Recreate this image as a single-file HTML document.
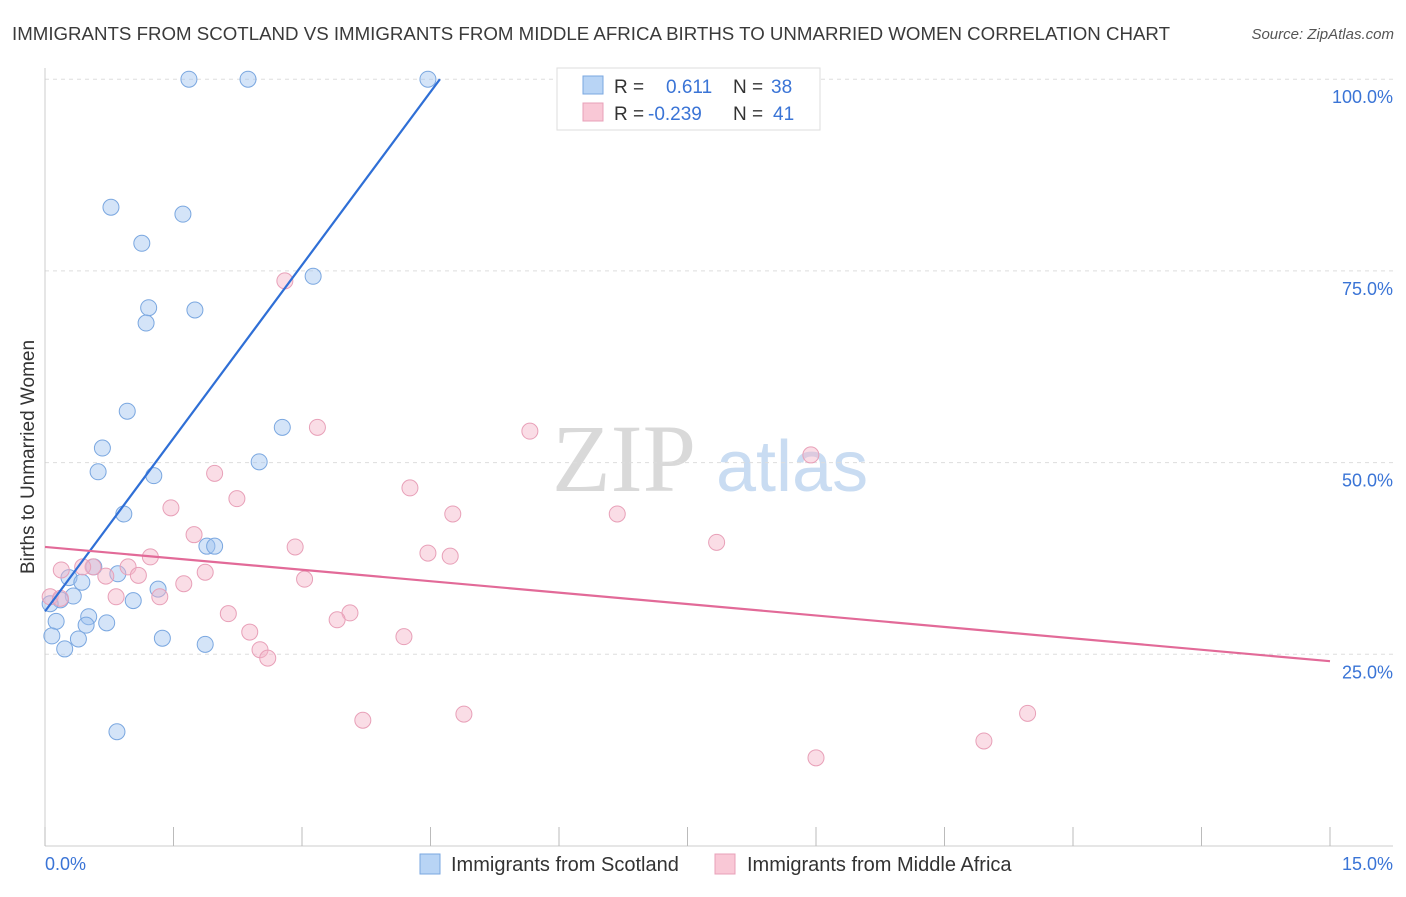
<!DOCTYPE html>
<html><head><meta charset="utf-8"><style>
body{margin:0;background:#fff;font-family:"Liberation Sans",sans-serif;}
svg text{font-family:"Liberation Sans",sans-serif;}
</style></head><body>
<svg id="chart" width="1406" height="892" xmlns="http://www.w3.org/2000/svg">
<text x="12" y="40" font-size="18" fill="#3a3a3a" textLength="1158" lengthAdjust="spacingAndGlyphs">IMMIGRANTS FROM SCOTLAND VS IMMIGRANTS FROM MIDDLE AFRICA BIRTHS TO UNMARRIED WOMEN CORRELATION CHART</text>
<text x="1394" y="39" font-size="15" fill="#555" font-style="italic" text-anchor="end">Source: ZipAtlas.com</text>
<text x="552" y="491" font-size="96" fill="#d9d9d9" font-family="Liberation Serif" style="font-family:'Liberation Serif',serif">ZIP</text>
<text x="716" y="491" font-size="72" fill="#c9dcf2">atlas</text>
<text transform="translate(34,457) rotate(-90)" font-size="19" fill="#333" text-anchor="middle">Births to Unmarried Women</text>
<g id="grid"></g><g id="pts"></g><g id="lines"></g>
<g>
<rect x="557" y="68" width="263" height="62" fill="#fff" stroke="#ddd"/>
<rect x="583" y="76" width="20" height="18" fill="#b8d4f5" stroke="#7aa7e0"/>
<rect x="583" y="103" width="20" height="18" fill="#f9c8d6" stroke="#e8a0b8"/>
<text x="614" y="93" font-size="19" fill="#333">R =</text><text x="666" y="93" font-size="19" fill="#3a74d6">0.611</text>
<text x="733" y="93" font-size="19" fill="#333">N =</text><text x="771" y="93" font-size="19" fill="#3a74d6">38</text>
<text x="614" y="120" font-size="19" fill="#333">R =</text><text x="648" y="120" font-size="19" fill="#3a74d6">-0.239</text>
<text x="733" y="120" font-size="19" fill="#333">N =</text><text x="773" y="120" font-size="19" fill="#3a74d6">41</text>
</g>
<g>
<rect x="420" y="854" width="20" height="20" fill="#b8d4f5" stroke="#7aa7e0"/>
<text x="451" y="871" font-size="20" fill="#333">Immigrants from Scotland</text>
<rect x="715" y="854" width="20" height="20" fill="#f9c8d6" stroke="#e8a0b8"/>
<text x="747" y="871" font-size="20" fill="#333">Immigrants from Middle Africa</text>
</g>
<text x="45" y="870" font-size="18" fill="#3a74d6">0.0%</text>
<text x="1393" y="870" font-size="18" fill="#3a74d6" text-anchor="end">15.0%</text>
</svg>
<script>
const blueX=[1.68,2.37,4.47,0.77,1.61,1.13,3.13,1.21,1.75,1.18,0.96,2.77,0.67,2.50,0.62,1.27,0.92,1.89,1.98,0.57,0.28,0.85,0.43,1.32,0.33,0.18,0.06,1.03,0.51,0.48,0.72,0.13,1.37,0.39,0.08,1.87,0.23,0.84];
const blueY=[100,100,100,83.3,82.4,78.6,74.3,70.2,69.9,68.2,56.7,54.6,51.9,50.1,48.8,48.3,43.3,39.1,39.1,36.4,35.0,35.5,34.4,33.5,32.6,32.1,31.6,32.0,29.9,28.8,29.1,29.3,27.1,27.0,27.4,26.3,25.7,14.9];
const pinkX=[2.80,3.18,5.66,8.94,1.98,4.26,2.24,1.47,4.76,6.68,1.74,7.84,2.92,4.47,4.73,1.23,0.19,0.97,0.56,1.87,1.09,0.71,3.03,1.62,0.83,1.34,0.06,2.14,3.56,3.41,2.39,4.19,2.51,2.60,3.71,4.89,11.47,10.96,9.00,0.44,0.18];
const pinkY=[73.7,54.6,54.1,51.0,48.6,46.7,45.3,44.1,43.3,43.3,40.6,39.6,39.0,38.2,37.8,37.7,36.0,36.4,36.4,35.7,35.3,35.2,34.8,34.2,32.5,32.5,32.5,30.3,30.4,29.5,27.9,27.3,25.6,24.5,16.4,17.2,17.3,13.7,11.5,36.4,32.3];
const blueLine=[[0,30.6],[4.61,100]];
const pinkLine=[[0,39.0],[15,24.1]];
const yTicks=[25,50,75,100];
const yTickLabels=["25.0%","50.0%","75.0%","100.0%"];
const xTicks=[0,1.5,3,4.5,6,7.5,9,10.5,12,13.5,15];
const NS="http://www.w3.org/2000/svg";
const sx=v=>45+v/15*1285, sy=v=>846-v*7.668;
function mk(tag,attrs,parent){const e=document.createElementNS(NS,tag);for(const k in attrs)e.setAttribute(k,attrs[k]);parent.appendChild(e);return e;}
const grid=document.getElementById('grid'),pts=document.getElementById('pts'),lines=document.getElementById('lines');
yTicks.forEach((t,i)=>{
 const l=mk('line',{x1:45,x2:1393,y1:sy(t),y2:sy(t),stroke:'#ddd','stroke-dasharray':'4,4'},grid);
 
 
 const tx=mk('text',{x:1393,y:sy(t)+24,'font-size':18,fill:'#3a74d6','text-anchor':'end'},grid);
 tx.textContent=yTickLabels[i];
 
 
});
const ax=mk('line',{x1:45,x2:45,y1:68,y2:846,stroke:'#ccc'},grid);


const bx=mk('line',{x1:45,x2:1393,y1:846,y2:846,stroke:'#ccc'},grid);


xTicks.forEach(t=>{
 const l=mk('line',{x1:sx(t),x2:sx(t),y1:827,y2:846,stroke:'#bbb'},grid);
 
 
});
blueX.forEach((x,i)=>{
 const c=mk('circle',{cx:sx(x),cy:sy(blueY[i]),r:8,fill:'rgba(160,196,240,0.45)',stroke:'#7aa7e0','stroke-width':1},pts);
 
 
});
pinkX.forEach((x,i)=>{
 const c=mk('circle',{cx:sx(x),cy:sy(pinkY[i]),r:8,fill:'rgba(245,180,200,0.45)',stroke:'#e8a0b8','stroke-width':1},pts);
 
 
});
const bl=mk('line',{x1:sx(blueLine[0][0]),y1:sy(blueLine[0][1]),x2:sx(blueLine[1][0]),y2:sy(blueLine[1][1]),stroke:'#2f6fd6','stroke-width':2.2},lines);


const pl=mk('line',{x1:sx(pinkLine[0][0]),y1:sy(pinkLine[0][1]),x2:sx(pinkLine[1][0]),y2:sy(pinkLine[1][1]),stroke:'#e26a98','stroke-width':2.2},lines);


</script>
</body></html>
